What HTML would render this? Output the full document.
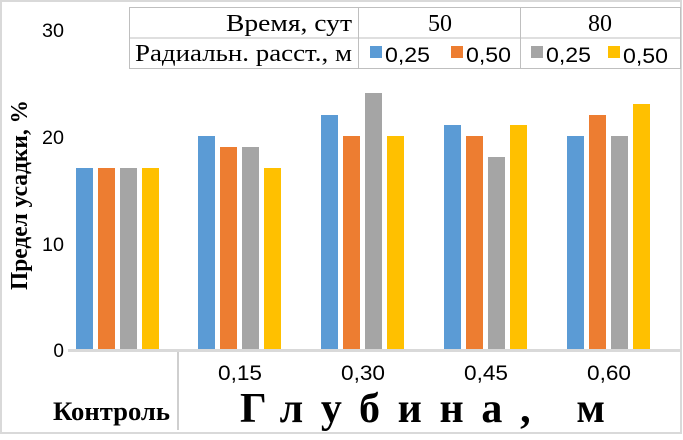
<!DOCTYPE html><html><head><meta charset="utf-8"><style>
body{margin:0;width:683px;height:435px;background:#fff;overflow:hidden}
</style></head><body>
<svg width="683" height="435" xmlns="http://www.w3.org/2000/svg">
<rect x="1" y="1" width="680" height="432" fill="#fff" stroke="#d9d9d9" stroke-width="2"/>
<g font-family="Liberation Sans, sans-serif" font-size="19" fill="#000" text-anchor="end">
<text x="64" y="37" textLength="22" lengthAdjust="spacingAndGlyphs">30</text><text x="64" y="144" textLength="22" lengthAdjust="spacingAndGlyphs">20</text><text x="64" y="251" textLength="22" lengthAdjust="spacingAndGlyphs">10</text><text x="64" y="357">0</text>
</g>
<g fill="#5B9BD5"><rect x="76" y="168" width="17" height="181"/><rect x="198" y="136" width="17" height="213"/><rect x="321" y="115" width="17" height="234"/><rect x="444" y="125" width="17" height="224"/><rect x="567" y="136" width="17" height="213"/></g>
<g fill="#ED7D31"><rect x="98" y="168" width="17" height="181"/><rect x="220" y="147" width="17" height="202"/><rect x="343" y="136" width="17" height="213"/><rect x="466" y="136" width="17" height="213"/><rect x="589" y="115" width="17" height="234"/></g>
<g fill="#A5A5A5"><rect x="120" y="168" width="17" height="181"/><rect x="242" y="147" width="17" height="202"/><rect x="365" y="93" width="17" height="256"/><rect x="488" y="157" width="17" height="192"/><rect x="611" y="136" width="17" height="213"/></g>
<g fill="#FFC000"><rect x="142" y="168" width="17" height="181"/><rect x="264" y="168" width="17" height="181"/><rect x="387" y="136" width="17" height="213"/><rect x="510" y="125" width="17" height="224"/><rect x="633" y="104" width="17" height="245"/></g>
<rect x="68" y="349" width="612" height="3" fill="#d9d9d9"/>
<line x1="178" y1="352" x2="178" y2="430" stroke="#bfbfbf" stroke-width="1.5"/>
<g font-family="Liberation Sans, sans-serif" font-size="21" text-anchor="middle">
<text x="240" y="380" textLength="44" lengthAdjust="spacingAndGlyphs">0,15</text><text x="363" y="380" textLength="44" lengthAdjust="spacingAndGlyphs">0,30</text><text x="486" y="380" textLength="44" lengthAdjust="spacingAndGlyphs">0,45</text><text x="609" y="380" textLength="44" lengthAdjust="spacingAndGlyphs">0,60</text>
</g>
<text x="53" y="420" font-family="Liberation Serif, serif" font-weight="bold" font-size="26" textLength="117" lengthAdjust="spacingAndGlyphs">Контроль</text>
<text x="240" y="422" font-family="Liberation Serif, serif" font-weight="bold" font-size="42" textLength="365" lengthAdjust="spacing">Глубина, м</text>
<text transform="translate(27,195) rotate(-90)" font-family="Liberation Serif, serif" font-weight="bold" font-size="24" text-anchor="middle" textLength="190" lengthAdjust="spacingAndGlyphs">Предел усадки, %</text>
<g stroke="#bfbfbf" stroke-width="1" fill="none">
<rect x="129.5" y="7.5" width="551" height="61"/>
<line x1="129.5" y1="38" x2="680" y2="38"/>
<line x1="358.5" y1="7" x2="358.5" y2="68"/><line x1="520.5" y1="7" x2="520.5" y2="68"/>
</g>
<g font-family="Liberation Serif, serif" font-size="24">
<text x="226" y="31" textLength="126" lengthAdjust="spacingAndGlyphs">Время, сут</text>
<text x="135" y="61" textLength="217" lengthAdjust="spacingAndGlyphs">Радиальн. расст., м</text>
<text x="440" y="31" text-anchor="middle">50</text>
<text x="600" y="31" text-anchor="middle">80</text>
</g>
<rect x="370" y="46" width="12" height="12" fill="#5B9BD5"/><rect x="451" y="46" width="12" height="12" fill="#ED7D31"/>
<rect x="531" y="46" width="12" height="12" fill="#A5A5A5"/><rect x="608" y="46" width="12" height="12" fill="#FFC000"/>
<g font-family="Liberation Sans, sans-serif" font-size="21">
<text x="385" y="62" textLength="45" lengthAdjust="spacingAndGlyphs">0,25</text><text x="466" y="62" textLength="45" lengthAdjust="spacingAndGlyphs">0,50</text><text x="546" y="62" textLength="45" lengthAdjust="spacingAndGlyphs">0,25</text><text x="623" y="63" textLength="45" lengthAdjust="spacingAndGlyphs">0,50</text>
</g>
</svg>
</body></html>
